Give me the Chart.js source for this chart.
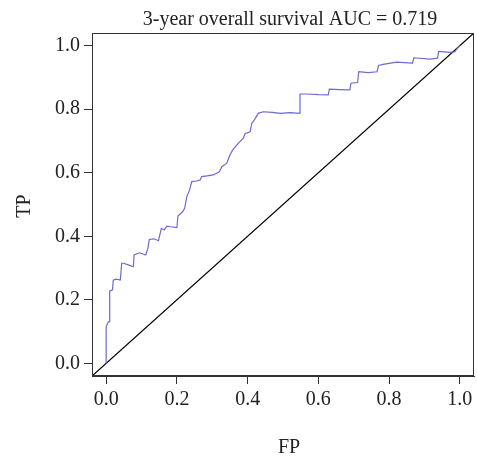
<!DOCTYPE html>
<html>
<head>
<meta charset="utf-8">
<script src="https://cdn.jsdelivr.net/npm/chart.js@4.4.1/dist/chart.umd.min.js"></script>
<style>
  body { margin: 0; background: #fff; }
  #wrap { width: 477px; height: 459px; }
</style>
</head>
<body>
<div id="wrap"><canvas id="roc" width="477" height="459"></canvas></div>
<script>
// ROC curve points
const FP = [0.000, 0.000, 0.006, 0.010, 0.010, 0.018, 0.020, 0.028, 0.040, 0.044,
            0.050, 0.062, 0.077, 0.079, 0.094, 0.112, 0.118, 0.122, 0.135, 0.148,
            0.156, 0.164, 0.172, 0.182, 0.200, 0.203, 0.216, 0.222, 0.228, 0.236,
            0.242, 0.255, 0.266, 0.270, 0.285, 0.303, 0.320, 0.327, 0.341, 0.350,
            0.358, 0.374, 0.388, 0.393, 0.407, 0.412, 0.420, 0.430, 0.444, 0.470,
            0.492, 0.520, 0.548, 0.548, 0.567, 0.600, 0.628, 0.631, 0.660, 0.689,
            0.692, 0.711, 0.714, 0.741, 0.766, 0.770, 0.783, 0.821, 0.866, 0.870,
            0.915, 0.937, 0.940, 0.972, 0.986, 0.991, 1.000];
const TP = [0.000, 0.115, 0.130, 0.131, 0.228, 0.231, 0.262, 0.265, 0.262, 0.315,
            0.315, 0.310, 0.304, 0.341, 0.348, 0.341, 0.362, 0.390, 0.392, 0.386,
            0.425, 0.420, 0.432, 0.430, 0.427, 0.464, 0.477, 0.488, 0.525, 0.546,
            0.572, 0.574, 0.577, 0.588, 0.590, 0.593, 0.603, 0.619, 0.630, 0.656,
            0.672, 0.693, 0.709, 0.724, 0.729, 0.756, 0.768, 0.787, 0.792, 0.790,
            0.787, 0.789, 0.787, 0.848, 0.848, 0.846, 0.845, 0.863, 0.862, 0.861,
            0.882, 0.884, 0.918, 0.915, 0.918, 0.938, 0.941, 0.948, 0.945, 0.962,
            0.958, 0.961, 0.982, 0.979, 0.981, 0.989, 1.000];

const TICKS = [0, 0.2, 0.4, 0.6, 0.8, 1.0];
const AXIS_MIN = -0.04;
const AXIS_MAX = 1.04;

const TITLE = '3-year overall survival AUC = 0.719';
const X_LABEL = 'FP';
const Y_LABEL = 'TP';

const FONT = '"Liberation Serif", "Times New Roman", serif';
const TEXT = '#222';

const rocPoints = FP.map((x, i) => ({ x: x, y: TP[i] }));
const diagonal = [{ x: AXIS_MIN, y: AXIS_MIN }, { x: AXIS_MAX, y: AXIS_MAX }];

// box around plot + title + axis labels, placed like the R figure
const framePlugin = {
  id: 'frame',
  afterDraw(chart) {
    const { ctx, chartArea } = chart;
    ctx.save();
    ctx.strokeStyle = '#333';
    ctx.lineWidth = 1;
    ctx.strokeRect(chartArea.left + 0.5, chartArea.top + 0.5,
                   chartArea.right - chartArea.left - 1, chartArea.bottom - chartArea.top - 1);
    ctx.fillStyle = TEXT;
    ctx.font = '20px ' + FONT;
    ctx.textAlign = 'center';
    ctx.textBaseline = 'alphabetic';
    ctx.fillText(TITLE, 290, 25);
    ctx.fillText(X_LABEL, 289, 453);
    ctx.translate(30, 206);
    ctx.rotate(-Math.PI / 2);
    ctx.fillText(Y_LABEL, 0, 0);
    ctx.restore();
  }
};

function axis(fit) {
  return {
    type: 'linear',
    min: AXIS_MIN,
    max: AXIS_MAX,
    afterBuildTicks: (scale) => { scale.ticks = TICKS.map(v => ({ value: v })); },
    afterFit: fit,
    grid: { display: true, drawOnChartArea: false, drawTicks: true, tickLength: 8, color: '#333', lineWidth: 1 },
    border: { display: true, color: '#333', width: 1 },
    ticks: {
      color: TEXT,
      padding: 4,
      maxRotation: 0,
      font: { family: FONT, size: 20 },
      callback: (v) => Number(v).toFixed(1)
    }
  };
}

new Chart(document.getElementById('roc').getContext('2d'), {
  type: 'scatter',
  data: {
    datasets: [
      {
        data: rocPoints,
        showLine: true,
        borderColor: '#6b6bd2',
        borderWidth: 1.2,
        pointRadius: 0,
        tension: 0,
        fill: false
      },
      {
        data: diagonal,
        showLine: true,
        borderColor: '#000',
        borderWidth: 1.3,
        pointRadius: 0,
        fill: false
      }
    ]
  },
  options: {
    responsive: false,
    animation: false,
    layout: { padding: { top: 33, right: 3, left: 0, bottom: 0 } },
    scales: {
      x: axis((s) => { s.height = 83; }),
      y: axis((s) => { s.width = 92; })
    },
    plugins: {
      legend: { display: false },
      tooltip: { enabled: false }
    }
  },
  plugins: [framePlugin]
});
</script>
</body>
</html>
